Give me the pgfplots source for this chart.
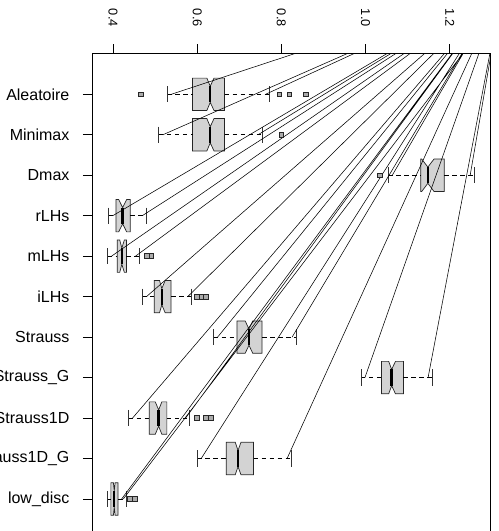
\documentclass[border=0pt]{standalone}
\usepackage{pgfplots}
\pgfplotsset{compat=1.18}
\usepackage{fontspec}
\setmainfont{Liberation Sans}
\definecolor{boxfill}{HTML}{D3D3D3}
\definecolor{outfill}{HTML}{ABABAB}
\begin{document}
\begin{tikzpicture}
\begin{axis}[
  scale only axis, width=398pt, height=482.1pt,
  xmin=0.35, xmax=1.2955, ymin=-0.0131, ymax=11.9, y dir=reverse,
  axis line style={black, line width=0.8pt},
  xtick={0.4,0.6,0.8,1.0,1.2}, xticklabels={0.4,0.6,0.8,1.0,1.2},
  xtick pos=upper, xticklabel pos=upper,
  ytick={1,2,3,4,5,6,7,8,9,10,11},
  yticklabels={Aleatoire,Minimax,Dmax,rLHs,mLHs,iLHs,Strauss,Strauss\_G,Strauss1D,Strauss1D\_G,low\_disc},
  ytick pos=left,
  tick align=outside, major tick length=9pt,
  tick style={black, line width=0.8pt},
  xticklabel style={yshift=14pt, rotate=-90, anchor=east, font=\fontsize{12.8}{15}\selectfont},
  yticklabel style={xshift=-10pt, font=\fontsize{16}{19}\selectfont},
  unbounded coords=jump,
  clip=true,
]
% notched boxes
\addplot[draw=black!85, line width=0.7pt, fill=boxfill] coordinates {(0.589,0.6) (0.589,1.4) (0.623,1.4) (0.631,1.2) (0.640,1.4) (0.665,1.4) (0.665,0.6) (0.640,0.6) (0.631,0.8) (0.623,0.6)} --cycle;
\addplot[draw=black!85, line width=0.7pt, fill=boxfill] coordinates {(0.589,1.6) (0.589,2.4) (0.623,2.4) (0.631,2.2) (0.640,2.4) (0.665,2.4) (0.665,1.6) (0.640,1.6) (0.631,1.8) (0.623,1.6)} --cycle;
\addplot[draw=black!85, line width=0.7pt, fill=boxfill] coordinates {(1.131,2.6) (1.131,3.4) (1.1335,3.4) (1.148,3.2) (1.1625,3.4) (1.187,3.4) (1.187,2.6) (1.1625,2.6) (1.148,2.8) (1.1335,2.6)} --cycle;
\addplot[draw=black!85, line width=0.7pt, fill=boxfill] coordinates {(0.407,3.6) (0.407,4.4) (0.4135,4.4) (0.423,4.2) (0.4325,4.4) (0.441,4.4) (0.441,3.6) (0.4325,3.6) (0.423,3.8) (0.4135,3.6)} --cycle;
\addplot[draw=black!85, line width=0.7pt, fill=boxfill] coordinates {(0.410,4.6) (0.410,5.4) (0.416,5.4) (0.421,5.2) (0.427,5.4) (0.432,5.4) (0.432,4.6) (0.427,4.6) (0.421,4.8) (0.416,4.6)} --cycle;
\addplot[draw=black!85, line width=0.7pt, fill=boxfill] coordinates {(0.498,5.6) (0.498,6.4) (0.5105,6.4) (0.516,6.2) (0.524,6.4) (0.538,6.4) (0.538,5.6) (0.524,5.6) (0.516,5.8) (0.5105,5.6)} --cycle;
\addplot[draw=black!85, line width=0.7pt, fill=boxfill] coordinates {(0.6945,6.6) (0.6945,7.4) (0.714,7.4) (0.723,7.2) (0.732,7.4) (0.754,7.4) (0.754,6.6) (0.732,6.6) (0.723,6.8) (0.714,6.6)} --cycle;
\addplot[draw=black!85, line width=0.7pt, fill=boxfill] coordinates {(1.038,7.6) (1.038,8.4) (1.055,8.4) (1.062,8.2) (1.071,8.4) (1.090,8.4) (1.090,7.6) (1.071,7.6) (1.062,7.8) (1.055,7.6)} --cycle;
\addplot[draw=black!85, line width=0.7pt, fill=boxfill] coordinates {(0.486,8.6) (0.486,9.4) (0.5005,9.4) (0.5085,9.2) (0.516,9.4) (0.528,9.4) (0.528,8.6) (0.516,8.6) (0.5085,8.8) (0.5005,8.6)} --cycle;
\addplot[draw=black!85, line width=0.7pt, fill=boxfill] coordinates {(0.669,9.6) (0.669,10.4) (0.6905,10.4) (0.697,10.2) (0.704,10.4) (0.734,10.4) (0.734,9.6) (0.704,9.6) (0.697,9.8) (0.6905,9.6)} --cycle;
\addplot[draw=black!85, line width=0.7pt, fill=boxfill] coordinates {(0.395,10.6) (0.395,11.4) (0.401,11.4) (0.403,11.2) (0.405,11.4) (0.412,11.4) (0.412,10.6) (0.405,10.6) (0.403,10.8) (0.401,10.6)} --cycle;
% medians
\addplot[black, line width=2.4pt] coordinates {
(0.631,0.8) (0.631,1.2) (nan,nan)
(0.631,1.8) (0.631,2.2) (nan,nan)
(1.148,2.8) (1.148,3.2) (nan,nan)
(0.423,3.8) (0.423,4.2) (nan,nan)
(0.421,4.8) (0.421,5.2) (nan,nan)
(0.516,5.8) (0.516,6.2) (nan,nan)
(0.723,6.8) (0.723,7.2) (nan,nan)
(1.062,7.8) (1.062,8.2) (nan,nan)
(0.5085,8.8) (0.5085,9.2) (nan,nan)
(0.697,9.8) (0.697,10.2) (nan,nan)
(0.403,10.8) (0.403,11.2)};
% whiskers
\addplot[black, line width=0.7pt, dash pattern=on 4.5pt off 3.5pt] coordinates {
(0.529,1) (0.589,1) (nan,nan) (0.665,1) (0.772,1) (nan,nan)
(0.509,2) (0.589,2) (nan,nan) (0.665,2) (0.754,2) (nan,nan)
(1.054,3) (1.131,3) (nan,nan) (1.187,3) (1.258,3) (nan,nan)
(0.390,4) (0.407,4) (nan,nan) (0.441,4) (0.479,4) (nan,nan)
(0.387,5) (0.410,5) (nan,nan) (0.432,5) (0.463,5) (nan,nan)
(0.470,6) (0.498,6) (nan,nan) (0.538,6) (0.587,6) (nan,nan)
(0.639,7) (0.6945,7) (nan,nan) (0.754,7) (0.835,7) (nan,nan)
(0.989,8) (1.038,8) (nan,nan) (1.090,8) (1.158,8) (nan,nan)
(0.437,9) (0.486,9) (nan,nan) (0.528,9) (0.582,9) (nan,nan)
(0.600,10) (0.669,10) (nan,nan) (0.734,10) (0.823,10) (nan,nan)
(0.387,11) (0.395,11) (nan,nan) (0.412,11) (0.433,11)};
% staples
\addplot[black!80, line width=0.8pt] coordinates {
(0.529,0.8) (0.529,1.2) (nan,nan) (0.772,0.8) (0.772,1.2) (nan,nan)
(0.509,1.8) (0.509,2.2) (nan,nan) (0.754,1.8) (0.754,2.2) (nan,nan)
(1.054,2.8) (1.054,3.2) (nan,nan) (1.258,2.8) (1.258,3.2) (nan,nan)
(0.390,3.8) (0.390,4.2) (nan,nan) (0.479,3.8) (0.479,4.2) (nan,nan)
(0.387,4.8) (0.387,5.2) (nan,nan) (0.463,4.8) (0.463,5.2) (nan,nan)
(0.470,5.8) (0.470,6.2) (nan,nan) (0.587,5.8) (0.587,6.2) (nan,nan)
(0.639,6.8) (0.639,7.2) (nan,nan) (0.835,6.8) (0.835,7.2) (nan,nan)
(0.989,7.8) (0.989,8.2) (nan,nan) (1.158,7.8) (1.158,8.2) (nan,nan)
(0.437,8.8) (0.437,9.2) (nan,nan) (0.582,8.8) (0.582,9.2) (nan,nan)
(0.600,9.8) (0.600,10.2) (nan,nan) (0.823,9.8) (0.823,10.2) (nan,nan)
(0.387,10.8) (0.387,11.2) (nan,nan) (0.433,10.8) (0.433,11.2)};
% outliers
\addplot[only marks, mark=square*, mark size=2.4pt, mark options={fill=outfill, draw=black!85, line width=0.6pt}] coordinates {
(0.467,1) (0.795,1) (0.819,1) (0.858,1)
(0.800,2)
(1.033,3)
(0.481,5) (0.491,5)
(0.600,6) (0.610,6) (0.620,6)
(0.600,9) (0.620,9) (0.633,9)
(0.439,11) (0.451,11)};
% fan of lines
\addplot[black, line width=0.55pt] coordinates {
(0.5385,1) (1.3264,-1.701) (nan,nan) (0.7625,1) (1.3264,-1.701) (nan,nan)
(0.5185,2) (1.3264,-1.701) (nan,nan) (0.7445,2) (1.3264,-1.701) (nan,nan)
(1.0635,3) (1.3264,-1.701) (nan,nan) (1.2485,3) (1.3264,-1.701) (nan,nan)
(0.3995,4) (1.3264,-1.701) (nan,nan) (0.4695,4) (1.3264,-1.701) (nan,nan)
(0.3965,5) (1.3264,-1.701) (nan,nan) (0.4535,5) (1.3264,-1.701) (nan,nan)
(0.4795,6) (1.3264,-1.701) (nan,nan) (0.5775,6) (1.3264,-1.701) (nan,nan)
(0.6485,7) (1.3264,-1.701) (nan,nan) (0.8255,7) (1.3264,-1.701) (nan,nan)
(0.9985,8) (1.3264,-1.701) (nan,nan) (1.1485,8) (1.3264,-1.701) (nan,nan)
(0.4465,9) (1.3264,-1.701) (nan,nan) (0.5725,9) (1.3264,-1.701) (nan,nan)
(0.6095,10) (1.3264,-1.701) (nan,nan) (0.8135,10) (1.3264,-1.701) (nan,nan)
(0.4205,11) (1.3264,-1.701) (nan,nan) (0.4245,11) (1.3480,-1.600)};
\coordinate (bbsw) at (axis cs:0.13159,11.791);
\coordinate (bbne) at (axis cs:1.31686,-1.330);
\end{axis}
\pgfresetboundingbox
\path[use as bounding box] (bbsw) rectangle (bbne);
\end{tikzpicture}
\end{document}
